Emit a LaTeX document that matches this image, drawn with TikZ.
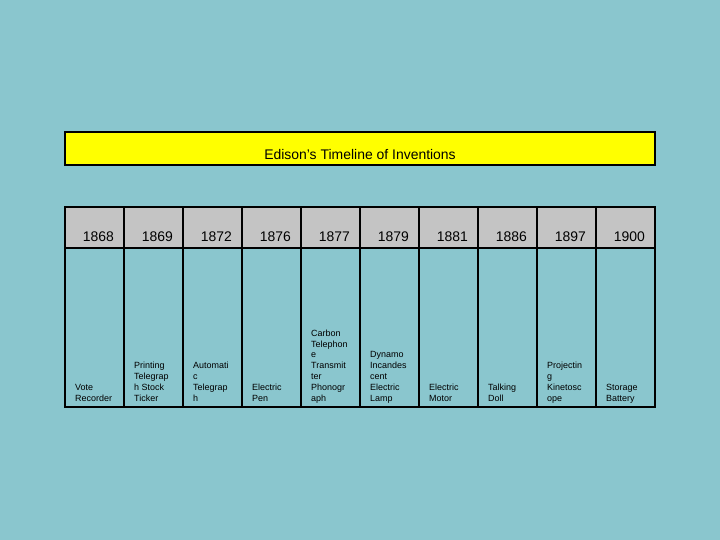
\documentclass[tikz,border=0pt]{standalone}
\usepackage{fontspec}
\setmainfont{Liberation Sans}
\definecolor{bg}{HTML}{8AC6CE}
\definecolor{hdr}{HTML}{C4C4C4}
\definecolor{ttl}{HTML}{FFFF00}
\begin{document}
\begin{tikzpicture}[x=1bp,y=-1bp,
  hcell/.style={draw=black,line width=2bp,fill=hdr,minimum width=59bp,minimum height=41bp,inner sep=0pt},
  bcell/.style={draw=black,line width=2bp,fill=bg,minimum width=59bp,minimum height=159bp,inner sep=0pt},
  yeartxt/.style={anchor=base east,inner sep=0pt,font=\fontsize{14}{16}\selectfont},
  invtxt/.style={anchor=south west,inner sep=0pt,align=left,font=\fontsize{9}{11}\selectfont}]
\fill[bg] (0,0) rectangle (720,540);
\useasboundingbox (0,0) rectangle (720,540);
\node[draw=black,line width=2bp,fill=ttl,minimum width=590bp,minimum height=33bp,inner sep=0pt] (title) at (360,148.5) {};
\node[anchor=base,inner sep=0pt,font=\fontsize{14}{16}\selectfont] (titletext) at (360,160) {Edison's Timeline of Inventions};
\foreach \i/\yr/\inv in {0/1868/{Vote\\Recorder},
  1/1869/{Printing\\Telegrap\\h Stock\\Ticker},
  2/1872/{Automati\\c\\Telegrap\\h},
  3/1876/{Electric\\Pen},
  4/1877/{Carbon\\Telephon\\e\\Transmit\\ter\\Phonogr\\aph},
  5/1879/{Dynamo\\Incandes\\cent\\Electric\\Lamp},
  6/1881/{Electric\\Motor},
  7/1886/{Talking\\Doll},
  8/1897/{Projectin\\g\\Kinetosc\\ope},
  9/1900/{Storage\\Battery}}{
  \node[bcell] (b\i) at ({65+59*\i+29.5},327.5) {};
  \node[hcell] (h\i) at ({65+59*\i+29.5},227.5) {};
  \node[yeartxt] (y\i) at ({65+59*\i+49},242) {\yr};
  \node[invtxt] (t\i) at ({65+59*\i+10},405.3) {\inv\strut};
}
\end{tikzpicture}
\end{document}
